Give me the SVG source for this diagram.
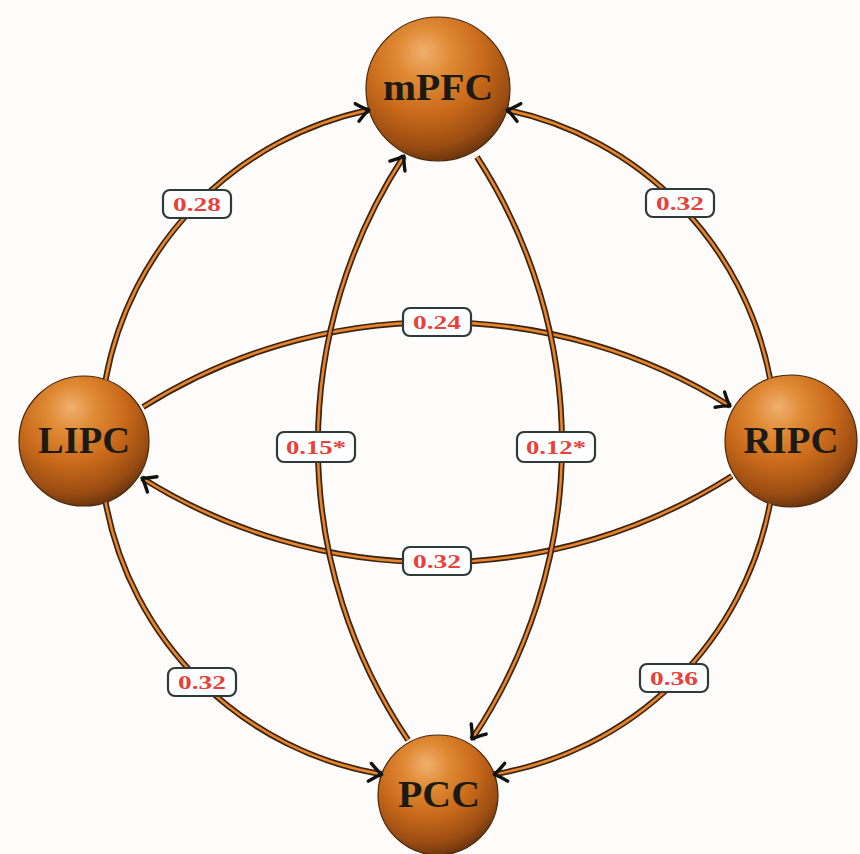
<svg xmlns="http://www.w3.org/2000/svg" width="860" height="854" viewBox="0 0 860 854">
<defs>
<radialGradient id="ball" cx="0.42" cy="0.3" r="0.75" fx="0.4" fy="0.24">
<stop offset="0" stop-color="#f0b070"/>
<stop offset="0.25" stop-color="#e08a34"/>
<stop offset="0.55" stop-color="#c8691a"/>
<stop offset="0.82" stop-color="#9a4c12"/>
<stop offset="1" stop-color="#5a2c0a"/>
</radialGradient>
<marker id="arr" markerUnits="userSpaceOnUse" viewBox="-15 -11 17 22" refX="0" refY="0" markerWidth="17" markerHeight="22" orient="auto">
<path d="M -12 -9 Q -4 -2 0 0 Q -4 2 -12 9" fill="none" stroke="#111" stroke-width="3.4" stroke-linecap="round" stroke-linejoin="round"/>
</marker>
</defs>
<style>
.ball{fill:url(#ball);stroke:#4a2608;stroke-width:1.2}
.nt{font-family:"Liberation Serif","DejaVu Serif",serif;font-weight:bold;font-size:37px;fill:#1c1a14;text-anchor:middle}
.out{fill:none;stroke:#3a2410;stroke-width:6}
.in{fill:none;stroke:#e8852c;stroke-width:2.6}
.lb{fill:#ffffff;stroke:#2e3a3a;stroke-width:2.2}
.lt{font-family:"Liberation Serif","DejaVu Serif",serif;font-weight:bold;font-size:19px;fill:#e8403a;text-anchor:middle}
</style>
<rect width="860" height="854" fill="#fdfcfb"/>
<g id="nodes">
<g id="mPFC"><circle class="ball" cx="438" cy="89" r="72"/><text class="nt" x="438" y="100" textLength="110" lengthAdjust="spacingAndGlyphs">mPFC</text></g>
<g id="LIPC"><circle class="ball" cx="84" cy="441" r="65"/><text class="nt" x="84" y="453" textLength="92" lengthAdjust="spacingAndGlyphs">LIPC</text></g>
<g id="RIPC"><circle class="ball" cx="791" cy="441" r="66"/><text class="nt" x="791" y="453" textLength="95" lengthAdjust="spacingAndGlyphs">RIPC</text></g>
<g id="PCC"><circle class="ball" cx="438" cy="795" r="60"/><text class="nt" x="439" y="807" textLength="82" lengthAdjust="spacingAndGlyphs">PCC</text></g>
</g>
<g id="connectors">
<g id="e1"><path class="out" d="M 105.6 379.7 A 338 338 0 0 1 368.9 110"/><path class="in" d="M 105.6 379.7 A 338 338 0 0 1 368.9 110" marker-end="url(#arr)"/></g>
<g id="e2"><path class="out" d="M 770 378.4 A 338 338 0 0 0 507.1 110"/><path class="in" d="M 770 378.4 A 338 338 0 0 0 507.1 110" marker-end="url(#arr)"/></g>
<g id="e3"><path class="out" d="M 143 407 A 552.7 552.7 0 0 1 730 406"/><path class="in" d="M 143 407 A 552.7 552.7 0 0 1 730 406" marker-end="url(#arr)"/></g>
<g id="e4"><path class="out" d="M 732 476 A 552.7 552.7 0 0 1 142 478"/><path class="in" d="M 732 476 A 552.7 552.7 0 0 1 142 478" marker-end="url(#arr)"/></g>
<g id="e5"><path class="out" d="M 408 740 A 528 528 0 0 1 404 156"/><path class="in" d="M 408 740 A 528 528 0 0 1 404 156" marker-end="url(#arr)"/></g>
<g id="e6"><path class="out" d="M 477 157 A 528 528 0 0 1 472 739"/><path class="in" d="M 477 157 A 528 528 0 0 1 472 739" marker-end="url(#arr)"/></g>
<g id="e7"><path class="out" d="M 105.6 502.3 A 338 338 0 0 0 381.7 774.3"/><path class="in" d="M 105.6 502.3 A 338 338 0 0 0 381.7 774.3" marker-end="url(#arr)"/></g>
<g id="e8"><path class="out" d="M 770 503.6 A 338 338 0 0 1 494.3 774.3"/><path class="in" d="M 770 503.6 A 338 338 0 0 1 494.3 774.3" marker-end="url(#arr)"/></g>
<g id="labels">
<rect class="lb" x="163" y="190" width="68" height="28" rx="7"/><text class="lt" x="197" y="211" textLength="48" lengthAdjust="spacingAndGlyphs">0.28</text>
<rect class="lb" x="646" y="189" width="68" height="28" rx="7"/><text class="lt" x="680" y="210" textLength="48" lengthAdjust="spacingAndGlyphs">0.32</text>
<rect class="lb" x="403" y="308" width="68" height="28" rx="7"/><text class="lt" x="437" y="329" textLength="48" lengthAdjust="spacingAndGlyphs">0.24</text>
<rect class="lb" x="403" y="547" width="68" height="28" rx="7"/><text class="lt" x="437" y="568" textLength="48" lengthAdjust="spacingAndGlyphs">0.32</text>
<rect class="lb" x="277" y="432" width="78" height="30" rx="7"/><text class="lt" x="316" y="454" textLength="60" lengthAdjust="spacingAndGlyphs">0.15*</text>
<rect class="lb" x="517" y="432" width="78" height="30" rx="7"/><text class="lt" x="556" y="454" textLength="60" lengthAdjust="spacingAndGlyphs">0.12*</text>
<rect class="lb" x="168" y="668" width="68" height="28" rx="7"/><text class="lt" x="202" y="689" textLength="48" lengthAdjust="spacingAndGlyphs">0.32</text>
<rect class="lb" x="640" y="664" width="68" height="28" rx="7"/><text class="lt" x="674" y="685" textLength="48" lengthAdjust="spacingAndGlyphs">0.36</text>
</g>
</g>
</svg>
